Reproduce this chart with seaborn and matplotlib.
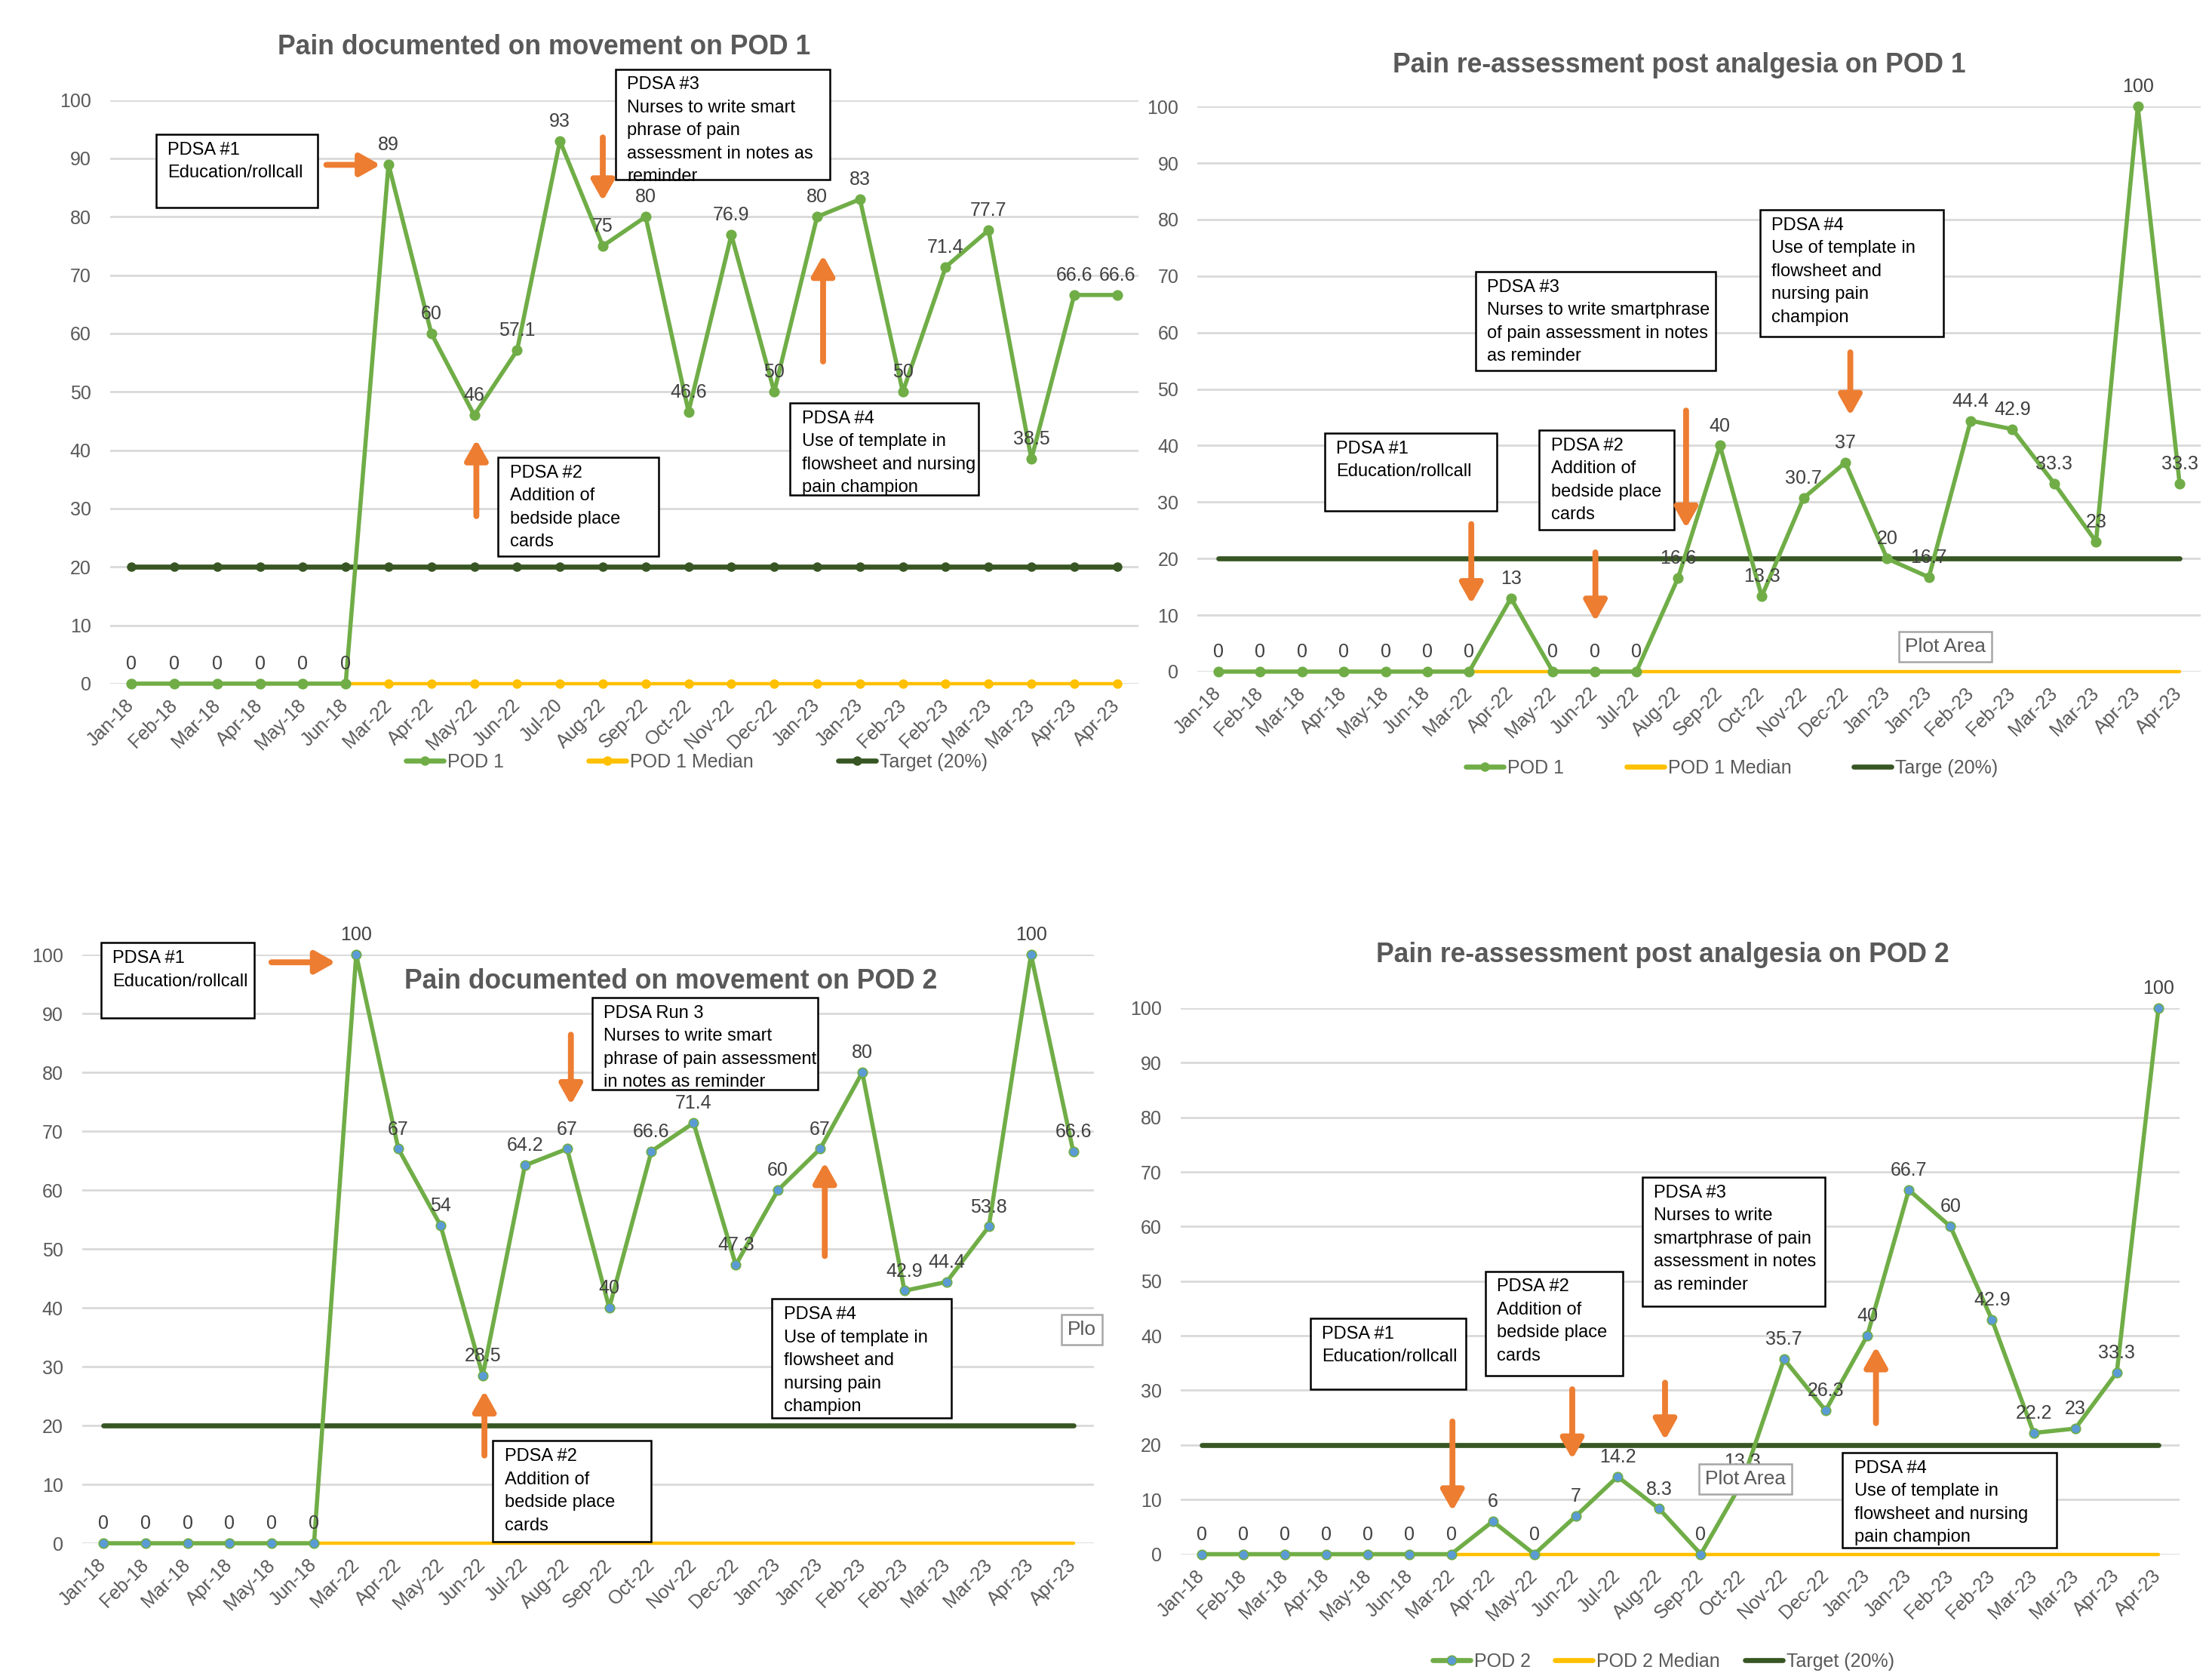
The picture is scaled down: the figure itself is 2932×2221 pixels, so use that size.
import matplotlib
matplotlib.use('Agg')
import matplotlib.pyplot as plt
from matplotlib import font_manager
from matplotlib.lines import Line2D
from matplotlib.patches import Rectangle
import seaborn as sns
import pandas as pd

# ---------------------------------------------------------
# Data
# ---------------------------------------------------------
months_pod1_move = ['Jan-18', 'Feb-18', 'Mar-18', 'Apr-18', 'May-18', 'Jun-18', 'Mar-22', 'Apr-22',
                    'May-22', 'Jun-22', 'Jul-20', 'Aug-22', 'Sep-22', 'Oct-22', 'Nov-22', 'Dec-22',
                    'Jan-23', 'Jan-23', 'Feb-23', 'Feb-23', 'Mar-23', 'Mar-23', 'Apr-23', 'Apr-23']
months = ['Jan-18', 'Feb-18', 'Mar-18', 'Apr-18', 'May-18', 'Jun-18', 'Mar-22', 'Apr-22',
          'May-22', 'Jun-22', 'Jul-22', 'Aug-22', 'Sep-22', 'Oct-22', 'Nov-22', 'Dec-22',
          'Jan-23', 'Jan-23', 'Feb-23', 'Feb-23', 'Mar-23', 'Mar-23', 'Apr-23', 'Apr-23']

pod1_movement = [0, 0, 0, 0, 0, 0, 89, 60, 46, 57.1, 93, 75, 80, 46.6, 76.9, 50,
                 80, 83, 50, 71.4, 77.7, 38.5, 66.6, 66.6]
pod1_reassess = [0, 0, 0, 0, 0, 0, 0, 13, 0, 0, 0, 16.6, 40, 13.3, 30.7, 37,
                 20, 16.7, 44.4, 42.9, 33.3, 23, 100, 33.3]
pod2_movement = [0, 0, 0, 0, 0, 0, 100, 67, 54, 28.5, 64.2, 67, 40, 66.6, 71.4, 47.3,
                 60, 67, 80, 42.9, 44.4, 53.8, 100, 66.6]
pod2_reassess = [0, 0, 0, 0, 0, 0, 0, 6, 0, 7, 14.2, 8.3, 0, 13.3, 35.7, 26.3,
                 40, 66.7, 60, 42.9, 22.2, 23, 33.3, 100]

median_value = 0
target_value = 20

# ---------------------------------------------------------
# Style
# ---------------------------------------------------------
GREEN = '#70AD47'
BLUE = '#5B9BD5'
YELLOW = '#FFC000'
DARK_GREEN = '#375623'
ORANGE = '#ED7D31'
TEXT_GRAY = '#595959'
LABEL_GRAY = '#404040'
GRID_GRAY = '#D9D9D9'

sns.set_style('white')
installed = {f.name for f in font_manager.fontManager.ttflist}
base_font = 'Liberation Sans Narrow' if 'Liberation Sans Narrow' in installed else 'Liberation Sans'
plt.rcParams['font.family'] = [base_font, 'DejaVu Sans']

FS_TICK = 9
FS_LABEL = 9
FS_BOX = 8.5
FS_TITLE = 12.8


def fmt(v):
    return f'{v:g}'


# Draw one run chart: median, target, measure line and the data labels
def draw_panel(ax, labels, values, median_markers, target_markers, marker_face):
    df = pd.DataFrame({
        'pos': list(range(len(labels))),
        'value': values,
        'median': [median_value] * len(labels),
        'target': [target_value] * len(labels),
    })
    med_kw = dict(marker='o', markersize=4.5, markeredgewidth=0) if median_markers else {}
    tgt_kw = dict(marker='o', markersize=4.5, markeredgewidth=0) if target_markers else {}
    sns.lineplot(data=df, x='pos', y='median', ax=ax, color=YELLOW, lw=1.6,
                 clip_on=False, zorder=2, **med_kw)
    sns.lineplot(data=df, x='pos', y='target', ax=ax, color=DARK_GREEN, lw=2.4,
                 clip_on=False, zorder=2, **tgt_kw)
    sns.lineplot(data=df, x='pos', y='value', ax=ax, color=GREEN, lw=2.0, marker='o',
                 markersize=4.5, markerfacecolor=marker_face, markeredgecolor=GREEN,
                 markeredgewidth=0.6, clip_on=False, zorder=3)

    for i, v in enumerate(values):
        ax.annotate(fmt(v), (i, v), xytext=(0, 5), textcoords='offset points',
                    ha='center', va='bottom', fontsize=FS_LABEL, color=LABEL_GRAY,
                    annotation_clip=False, zorder=6)

    ax.set_xlim(-0.5, len(labels) - 0.5)
    ax.set_ylim(0, 100)
    ax.set_yticks(range(0, 101, 10))
    ax.set_xticks(range(len(labels)))
    ax.set_xticklabels(labels, rotation=45, ha='right', va='center', rotation_mode='anchor')
    ax.tick_params(axis='both', length=0, labelsize=FS_TICK, colors=TEXT_GRAY)
    ax.tick_params(axis='y', pad=9)
    ax.tick_params(axis='x', pad=9)
    ax.grid(axis='y', color=GRID_GRAY, lw=1)
    ax.set_axisbelow(True)
    for s in ax.spines.values():
        s.set_visible(False)
    ax.set_xlabel('')
    ax.set_ylabel('')


# PDSA text boxes and orange arrows
def add_notes(ax, boxes, arrows):
    for x0, y0, x1, y1, text in boxes:
        ax.add_patch(Rectangle((x0, y0), x1 - x0, y1 - y0, facecolor='white', edgecolor='black',
                               lw=0.9, clip_on=False, zorder=7))
        ax.annotate(text, (x0, y1), xytext=(5.5, -3.5), textcoords='offset points',
                    ha='left', va='top', fontsize=FS_BOX, color='black', linespacing=1.5,
                    annotation_clip=False, zorder=8)
    for (xs, ys), (xe, ye) in arrows:
        ax.annotate('', xy=(xe, ye), xytext=(xs, ys),
                    arrowprops=dict(arrowstyle='-|>,head_width=0.45,head_length=0.8',
                                    color=ORANGE, lw=2.8, shrinkA=0, shrinkB=0),
                    annotation_clip=False, zorder=8)


def plot_area_tag(ax, x, y, text):
    ax.text(x, y, text, ha='center', va='center', fontsize=FS_BOX + 1, color=TEXT_GRAY,
            zorder=9, bbox=dict(boxstyle='square,pad=0.3', fc='white', ec='#A6A6A6', lw=0.9))


def main():
    fig = plt.figure(figsize=(14.66, 11.105), dpi=200)

    ax1 = fig.add_axes([0.0497, 0.5921, 0.4650, 0.3482])
    ax2 = fig.add_axes([0.5414, 0.5993, 0.4534, 0.3371])
    ax3 = fig.add_axes([0.0371, 0.0792, 0.4576, 0.3512])
    ax4 = fig.add_axes([0.5338, 0.0727, 0.4514, 0.3258])

    # ---------------- POD 1 movement ----------------
    draw_panel(ax1, months_pod1_move, pod1_movement, True, True, GREEN)
    add_notes(ax1, [
        (0.57, 81.6, 4.35, 94.1, 'PDSA #1\nEducation/rollcall'),
        (11.3, 86.4, 16.3, 105.3, 'PDSA #3\nNurses to write smart\nphrase of pain\nassessment in notes as\nreminder'),
        (8.56, 21.9, 12.31, 38.8, 'PDSA #2\nAddition of\nbedside place\ncards'),
        (15.37, 32.3, 19.76, 48.1, 'PDSA #4\nUse of template in\nflowsheet and nursing\npain champion'),
    ], [
        ((4.55, 88.9), (5.81, 88.9)),
        ((11.0, 93.6), (11.0, 82.7)),
        ((8.05, 28.7), (8.05, 41.8)),
        ((16.14, 55.2), (16.14, 73.4)),
    ])
    fig.text(0.246, 0.972, 'Pain documented on movement on POD 1', ha='center', va='center',
             fontsize=FS_TITLE, fontweight='bold', color=TEXT_GRAY)

    # ---------------- POD 1 re-assessment ----------------
    draw_panel(ax2, months, pod1_reassess, False, False, GREEN)
    add_notes(ax2, [
        (2.54, 28.4, 6.66, 42.2, 'PDSA #1\nEducation/rollcall'),
        (7.68, 25.1, 10.9, 42.7, 'PDSA #2\nAddition of\nbedside place\ncards'),
        (6.15, 53.3, 11.9, 70.8, 'PDSA #3\nNurses to write smartphrase\nof pain assessment in notes\nas reminder'),
        (12.96, 59.3, 17.34, 81.7, 'PDSA #4\nUse of template in\nflowsheet and\nnursing pain\nchampion'),
    ], [
        ((6.05, 26.1), (6.05, 12.0)),
        ((9.02, 21.1), (9.02, 8.9)),
        ((11.19, 46.2), (11.19, 25.4)),
        ((15.12, 56.5), (15.12, 45.3)),
    ])
    plot_area_tag(ax2, 17.4, 4.4, 'Plot Area')
    fig.text(0.759, 0.961, 'Pain re-assessment post analgesia on POD 1', ha='center', va='center',
             fontsize=FS_TITLE, fontweight='bold', color=TEXT_GRAY)

    # ---------------- POD 2 movement ----------------
    draw_panel(ax3, months, pod2_movement, False, False, BLUE)
    add_notes(ax3, [
        (-0.05, 89.3, 3.59, 102, 'PDSA #1\nEducation/rollcall'),
        (11.6, 77.1, 16.94, 92.7, 'PDSA Run 3\nNurses to write smart\nphrase of pain assessment\nin notes as reminder'),
        (9.24, 0.3, 12.99, 17.4, 'PDSA #2\nAddition of\nbedside place\ncards'),
        (15.86, 21.3, 20.11, 41.5, 'PDSA #4\nUse of template in\nflowsheet and\nnursing pain\nchampion'),
    ], [
        ((3.99, 98.7), (5.51, 98.7)),
        ((11.09, 86.4), (11.09, 74.5)),
        ((9.04, 14.9), (9.04, 25.9)),
        ((17.11, 48.8), (17.11, 64.7)),
    ])
    plot_area_tag(ax3, 23.2, 36.3, 'Plo')
    ax3.text(13.45, 95.4, 'Pain documented on movement on POD 2', ha='center', va='center',
             fontsize=FS_TITLE, fontweight='bold', color=TEXT_GRAY, zorder=6)

    # ---------------- POD 2 re-assessment ----------------
    draw_panel(ax4, months, pod2_reassess, False, False, BLUE)
    add_notes(ax4, [
        (2.62, 30.2, 6.36, 43.2, 'PDSA #1\nEducation/rollcall'),
        (6.82, 32.7, 10.13, 51.8, 'PDSA #2\nAddition of\nbedside place\ncards'),
        (10.59, 45.4, 14.98, 69.0, 'PDSA #3\nNurses to write\nsmartphrase of pain\nassessment in notes\nas reminder'),
        (15.41, 1.2, 20.55, 18.6, 'PDSA #4\nUse of template in\nflowsheet and nursing\npain champion'),
    ], [
        ((6.03, 24.3), (6.03, 7.9)),
        ((8.91, 30.2), (8.91, 17.4)),
        ((11.14, 31.4), (11.14, 20.9)),
        ((16.21, 24.0), (16.21, 38.0)),
    ])
    plot_area_tag(ax4, 13.07, 13.75, 'Plot Area')
    fig.text(0.7517, 0.4304, 'Pain re-assessment post analgesia on POD 2', ha='center', va='center',
             fontsize=FS_TITLE, fontweight='bold', color=TEXT_GRAY)

    # ---------------- legends ----------------
    mk = dict(marker='o', markersize=4.5, markeredgewidth=0)
    h1 = [Line2D([], [], color=GREEN, lw=2.4, **mk),
          Line2D([], [], color=YELLOW, lw=2.4, **mk),
          Line2D([], [], color=DARK_GREEN, lw=2.4, **mk)]
    fig.legend(h1, ['POD 1', 'POD 1 Median', 'Target (20%)'], loc='center',
               bbox_to_anchor=(0.315, 0.5453), ncol=3, frameon=False, fontsize=FS_TICK,
               labelcolor=TEXT_GRAY, columnspacing=4.5, handlelength=2.0, handletextpad=0.2)

    h2 = [Line2D([], [], color=GREEN, lw=2.4, **mk),
          Line2D([], [], color=YELLOW, lw=2.4),
          Line2D([], [], color=DARK_GREEN, lw=2.4)]
    fig.legend(h2, ['POD 1', 'POD 1 Median', 'Targe (20%)'], loc='center',
               bbox_to_anchor=(0.783, 0.5417), ncol=3, frameon=False, fontsize=FS_TICK,
               labelcolor=TEXT_GRAY, columnspacing=3.3, handlelength=2.0, handletextpad=0.2)

    h4 = [Line2D([], [], color=GREEN, lw=2.4, marker='o', markersize=4.5,
                 markerfacecolor=BLUE, markeredgecolor=GREEN, markeredgewidth=0.6),
          Line2D([], [], color=YELLOW, lw=2.4),
          Line2D([], [], color=DARK_GREEN, lw=2.4)]
    fig.legend(h4, ['POD 2', 'POD 2 Median', 'Target (20%)'], loc='center',
               bbox_to_anchor=(0.752, 0.0085), ncol=3, frameon=False, fontsize=FS_TICK,
               labelcolor=TEXT_GRAY, columnspacing=1.3, handlelength=2.0, handletextpad=0.2)

    fig.savefig('out.png', dpi=200, facecolor='white')
    plt.close(fig)
    print(f'font used: {base_font}')


if __name__ == '__main__':
    main()
